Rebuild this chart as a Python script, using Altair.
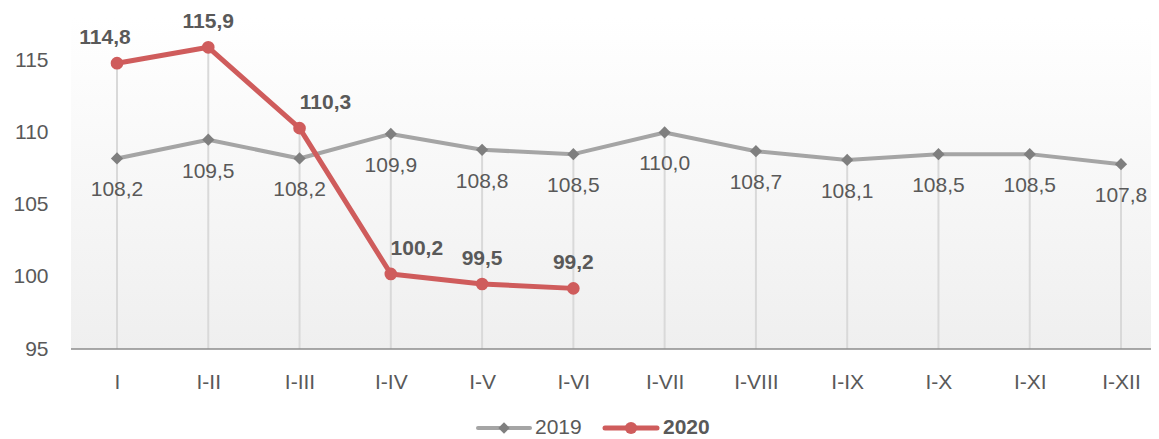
import altair as alt
import pandas as pd

categories = ["I", "I-II", "I-III", "I-IV", "I-V", "I-VI", "I-VII", "I-VIII", "I-IX", "I-X", "I-XI", "I-XII"]
values_2019 = [108.2, 109.5, 108.2, 109.9, 108.8, 108.5, 110.0, 108.7, 108.1, 108.5, 108.5, 107.8]
values_2020 = [114.8, 115.9, 110.3, 100.2, 99.5, 99.2]
series_names = ["2019", "2020"]
y_ticks = [95, 100, 105, 110, 115]

FONT = "Liberation Sans"
TXT = "#595959"
GRAY_LINE = "#A5A5A5"
GRAY_MARK = "#7F7F7F"
RED = "#CF5C5C"
W, H = 1080, 332

rows = []
for i, (c, v) in enumerate(zip(categories, values_2019)):
    rows.append({"cat": c, "series": "2019", "value": v, "idx": i})
for i, (c, v) in enumerate(zip(categories, values_2020)):
    rows.append({"cat": c, "series": "2020", "value": v, "idx": i})
df = pd.DataFrame(rows)
df["label"] = df["value"].map(lambda v: f"{v:.1f}".replace(".", ","))

drop = df.groupby("cat", sort=False)["value"].max().reset_index()
drop["base"] = 95

x_enc = alt.X("cat:N", sort=categories,
              scale=alt.Scale(type="point", range=[46, 1050], padding=0),
              axis=alt.Axis(title=None, domain=False, ticks=False, grid=False,
                            labelFont=FONT, labelFontSize=21, labelColor=TXT,
                            labelPadding=22, labelAngle=0))
y_scale = alt.Scale(domain=[95, 118], nice=False, zero=False)
y_enc = alt.Y("value:Q", scale=y_scale,
              axis=alt.Axis(title=None, domain=False, ticks=False, grid=False,
                            values=y_ticks, labelFont=FONT, labelFontSize=21,
                            labelColor=TXT, labelPadding=23))

bg = alt.Chart(pd.DataFrame({"a": [0]})).mark_rect(
    fill=alt.LinearGradient(gradient="linear", x1=0, x2=0, y1=0, y2=1,
                            stops=[alt.GradientStop(color="#FFFFFF", offset=0),
                                   alt.GradientStop(color="#EFEFEF", offset=1)])
).encode(x=alt.value(0), x2=alt.value(W), y=alt.value(0), y2=alt.value(H))

drops = alt.Chart(drop).mark_rule(color="#D9D9D9", strokeWidth=2).encode(
    x=x_enc, y=y_enc, y2="base:Q")

baseline = alt.Chart(pd.DataFrame({"a": [0]})).mark_rule(color="#8C8C8C", strokeWidth=1.5).encode(
    x=alt.value(0), x2=alt.value(W), y=alt.value(H))

line_scale = alt.Scale(domain=series_names, range=[GRAY_LINE, RED])
lines = alt.Chart(df).mark_line(strokeCap="round", strokeJoin="round").encode(
    x=x_enc, y=y_enc,
    stroke=alt.Stroke("series:N", scale=line_scale, legend=None),
    strokeWidth=alt.StrokeWidth("series:N", scale=alt.Scale(domain=series_names, range=[4, 5]), legend=None),
    detail="series:N")

pts19 = alt.Chart(df).transform_filter("datum.series == '2019'").mark_point(
    filled=True, shape="diamond", size=150, color=GRAY_MARK, opacity=1).encode(x=x_enc, y=y_enc)
pts20 = alt.Chart(df).transform_filter("datum.series == '2020'").mark_point(
    filled=True, shape="circle", size=160, color=RED, opacity=1).encode(x=x_enc, y=y_enc)

lab19 = alt.Chart(df).transform_filter("datum.series == '2019'").mark_text(
    dy=32, baseline="middle", align="center", font=FONT, fontSize=21, color=TXT).encode(
    x=x_enc, y=y_enc, text="label:N")

def lab20_layer(test, dx):
    return alt.Chart(df).transform_filter("datum.series == '2020'").transform_filter(test).mark_text(
        dy=-25, dx=dx, baseline="middle", align="center", font=FONT, fontSize=21,
        fontWeight="bold", color=TXT).encode(x=x_enc, y=y_enc, text="label:N")

lab20a = lab20_layer("datum.idx == 0", -12)
lab20b = lab20_layer("datum.idx == 1 || datum.idx >= 4", 0)
lab20c = lab20_layer("datum.idx == 2 || datum.idx == 3", 26)

# manual legend (bottom centre)
leg_df = pd.DataFrame({"series": series_names})
LY = 411
leg_line19 = alt.Chart(leg_df).transform_filter("datum.series == '2019'").mark_rule(
    color=GRAY_LINE, strokeWidth=4, strokeCap="round").encode(
    x=alt.value(407), x2=alt.value(459), y=alt.value(LY))
leg_pt19 = alt.Chart(leg_df).transform_filter("datum.series == '2019'").mark_point(
    filled=True, shape="diamond", size=130, color=GRAY_MARK, opacity=1).encode(
    x=alt.value(433), y=alt.value(LY))
leg_txt19 = alt.Chart(leg_df).transform_filter("datum.series == '2019'").mark_text(
    align="left", baseline="middle", font=FONT, fontSize=21, color=TXT).encode(
    x=alt.value(464), y=alt.value(LY), text="series:N")
leg_line20 = alt.Chart(leg_df).transform_filter("datum.series == '2020'").mark_rule(
    color=RED, strokeWidth=5, strokeCap="round").encode(
    x=alt.value(534), x2=alt.value(586), y=alt.value(LY))
leg_pt20 = alt.Chart(leg_df).transform_filter("datum.series == '2020'").mark_point(
    filled=True, shape="circle", size=150, color=RED, opacity=1).encode(
    x=alt.value(560), y=alt.value(LY))
leg_txt20 = alt.Chart(leg_df).transform_filter("datum.series == '2020'").mark_text(
    align="left", baseline="middle", font=FONT, fontSize=21, fontWeight="bold", color=TXT).encode(
    x=alt.value(592), y=alt.value(LY), text="series:N")

chart = alt.layer(bg, drops, baseline, lines, pts19, pts20, lab19, lab20a, lab20b, lab20c,
                  leg_line19, leg_pt19, leg_txt19, leg_line20, leg_pt20, leg_txt20).properties(
    width=W, height=H,
    autosize=alt.AutoSizeParams(type="none"),
    padding={"left": 63, "top": 9, "right": 0, "bottom": 90},
    background="#FFFFFF",
).configure_view(stroke=None)

chart.save("out.html", embed_options={"renderer": "svg", "actions": False})
